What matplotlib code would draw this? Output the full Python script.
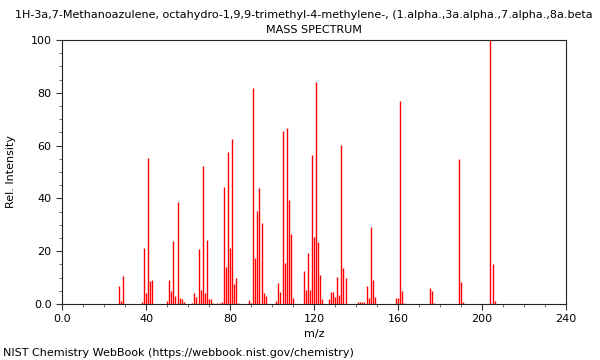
import matplotlib
matplotlib.use("Agg")
import matplotlib.pyplot as plt
from matplotlib.ticker import MultipleLocator, FuncFormatter

mz = [27, 28, 29, 38, 39, 40, 41, 42, 43,
      50, 51, 52, 53, 54, 55, 56, 57, 58,
      62, 63, 64, 65, 66, 67, 68, 69, 70, 71, 72,
      74, 75, 76, 77, 78, 79, 80, 81, 82, 83, 84,
      89, 90, 91, 92, 93, 94, 95, 96, 97,
      102, 103, 104, 105, 106, 107, 108, 109, 110,
      115, 116, 117, 118, 119, 120, 121, 122, 123, 124,
      127, 128, 129, 130, 131, 132, 133, 134, 135,
      141, 142, 143, 144, 145, 146, 147, 148, 149,
      159, 160, 161, 162, 163,
      175, 176, 177,
      189, 190, 191,
      204, 205, 206]
intensity = [7.0, 1.0, 10.7, 0.6, 21.2, 4.0, 55.2, 8.8, 9.1,
             1.2, 9.0, 5.1, 24.0, 3.0, 38.5, 2.4, 1.9, 0.8,
             0.3, 4.0, 2.8, 20.8, 5.3, 52.4, 4.0, 24.2, 1.9, 1.9, 0.5,
             0.5, 0.5, 0.8, 44.2, 14.1, 57.7, 21.3, 62.5, 7.6, 9.7, 0.5,
             1.5, 0.5, 81.9, 17.3, 35.2, 44.0, 30.6, 4.0, 3.0,
             1.0, 8.1, 4.5, 65.7, 15.7, 66.7, 39.4, 26.5, 2.1,
             12.5, 5.3, 19.4, 5.3, 56.4, 25.5, 84.0, 23.4, 11.0, 1.8,
             1.8, 4.5, 4.5, 2.5, 10.2, 3.4, 60.2, 13.8, 9.7,
             0.6, 0.6, 0.8, 0.6, 6.8, 2.1, 29.0, 9.0, 2.5,
             2.1, 2.1, 76.9, 4.8, 0.3,
             6.1, 4.9, 0.5,
             54.8, 8.3, 0.6,
             100.0, 15.0, 1.3]

title_text = ("1H-3a,7-Methanoazulene, octahydro-1,9,9-trimethyl-4-methylene-, "
              "(1.alpha.,3a.alpha.,7.alpha.,8a.beta")
subtitle = "MASS SPECTRUM"
xlabel = "m/z"
ylabel = "Rel. Intensity"
footer = "NIST Chemistry WebBook (https://webbook.nist.gov/chemistry)"

plt.rcParams['font.family'] = ['DejaVu Sans']
fig = plt.figure(figsize=(6, 3.6), dpi=100)
ax = fig.add_axes([62/600, 56/360, 504/600, 264/360])

ax.vlines(mz, 0, intensity, colors='#ff0000', linewidth=1.0)

ax.set_xlim(0, 240)
ax.set_ylim(0, 100)
ax.xaxis.set_major_locator(MultipleLocator(40))
ax.xaxis.set_minor_locator(MultipleLocator(10))
ax.yaxis.set_major_locator(MultipleLocator(20))
ax.yaxis.set_minor_locator(MultipleLocator(5))
fmt = FuncFormatter(lambda v, p: "0.0" if v == 0 else f"{int(v)}")
ax.xaxis.set_major_formatter(fmt)
ax.yaxis.set_major_formatter(fmt)
ax.tick_params(axis='both', which='major', labelsize=8, length=4, width=0.8,
               color='#333333', direction='out')
ax.tick_params(axis='both', which='minor', length=2, width=0.6,
               color='#555555', direction='out')
for s in ax.spines.values():
    s.set_color('#222222')
    s.set_linewidth(0.8)

ax.set_xlabel(xlabel, fontsize=8, labelpad=3)
ax.set_ylabel(ylabel, fontsize=8)
ax.yaxis.set_label_coords(-0.091, 0.5)

fig.text(15/600, 1 - 15/360, title_text, fontsize=8.05, ha='left', va='center')
fig.text(314/600, 1 - 30/360, subtitle, fontsize=8, ha='center', va='center')
fig.text(3/600, 1 - 353/360, footer, fontsize=8, ha='left', va='center')

fig.savefig("out.png", dpi=100)
